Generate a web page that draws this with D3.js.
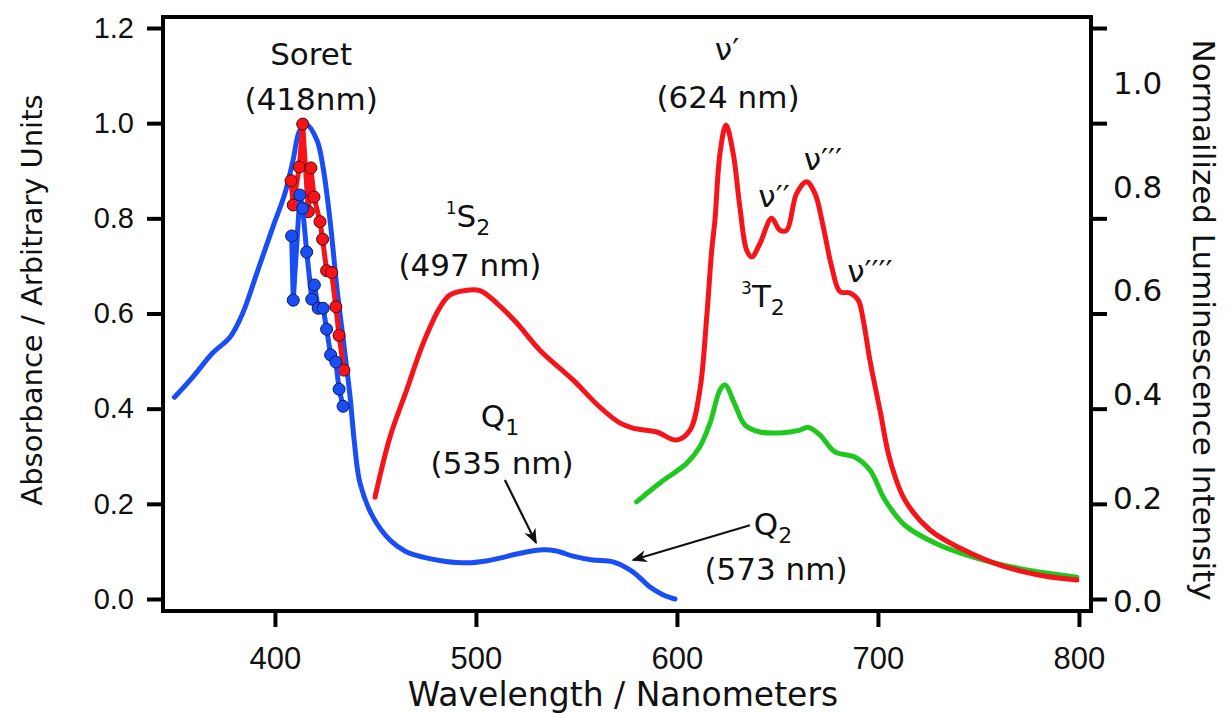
<!DOCTYPE html>
<html lang="en">
<head>
<meta charset="UTF-8">
<title>Absorbance and luminescence spectra</title>
<script src="https://d3js.org/d3.v7.min.js"></script>
<style>
    body { margin: 0; background: #fff; }
    svg { display: block; font-family: "DejaVu Sans", Verdana, sans-serif; }
    .frame { fill: none; stroke: #000; stroke-width: 4px; }
    .tick line { stroke: #000; stroke-width: 4px; }
    .tick text { fill: #111; }
    .curve { fill: none; stroke-width: 5px; stroke-linejoin: round; stroke-linecap: round; }
    .dots path { fill: none; stroke-width: 5px; stroke-linejoin: round; }
</style>
</head>
<body>
<svg width="1231" height="715"></svg>
<script>
// absorbance (blue)
const absWl  = [350, 359, 369, 377.6, 384, 391, 399, 405, 409, 412.4, 415.9, 420.9, 423.9, 427.4, 430.8, 434.8, 437.5, 439.5, 442.3, 448.8, 457.2, 465, 473.6, 485, 495.5, 505, 511.9, 522, 531.8, 540, 548.3, 558, 568.2, 576.6, 582, 586.6, 593, 599];
const absVal = [0.424, 0.466, 0.517, 0.550, 0.601, 0.685, 0.782, 0.853, 0.922, 0.985, 0.996, 0.964, 0.908, 0.796, 0.655, 0.517, 0.42, 0.33, 0.244, 0.172, 0.124, 0.100, 0.088, 0.079, 0.076, 0.080, 0.086, 0.096, 0.103, 0.101, 0.090, 0.082, 0.078, 0.061, 0.043, 0.025, 0.009, 0.000];

// luminescence (red)
const lumWl  = [449.8, 457.2, 465.5, 473.8, 482.1, 487.1, 495.4, 502, 510.3, 520.3, 531.8, 548.4, 561.7, 571.6, 578.1, 589.9, 599.9, 606.5, 611.4, 614.8, 617.3, 618.9, 621.4, 624.4, 628, 631.3, 634.7, 637.2, 641.3, 647.1, 651.2, 654.6, 659.5, 664.5, 668.7, 672.8, 677, 681.1, 686.1, 690.2, 692.7, 696, 701, 706, 713.4, 725.9, 740.8, 760.7, 780.6, 799];
const lumVal = [0.214, 0.340, 0.439, 0.538, 0.613, 0.639, 0.649, 0.648, 0.622, 0.580, 0.523, 0.460, 0.403, 0.370, 0.359, 0.351, 0.334, 0.355, 0.439, 0.592, 0.733, 0.796, 0.936, 0.996, 0.936, 0.824, 0.733, 0.719, 0.747, 0.800, 0.775, 0.775, 0.852, 0.877, 0.852, 0.782, 0.698, 0.646, 0.643, 0.628, 0.586, 0.502, 0.397, 0.292, 0.208, 0.145, 0.107, 0.071, 0.050, 0.040];

// luminescence (green)
const grnWl  = [579.9, 591.5, 604.8, 611.4, 616.4, 621.4, 623.9, 628.9, 633.8, 641.3, 651.2, 661.2, 665.2, 671.1, 678.6, 688.6, 696, 703.5, 713.4, 730.8, 750.7, 775.6, 799];
const grnVal = [0.204, 0.244, 0.285, 0.320, 0.369, 0.439, 0.450, 0.408, 0.366, 0.351, 0.349, 0.355, 0.361, 0.345, 0.309, 0.298, 0.271, 0.208, 0.155, 0.113, 0.084, 0.060, 0.046];

// Soret region points
const blueDotWl  = [408.3, 409.1, 412.4, 413.8, 415.8, 418.3, 419.6, 421.5, 424.0, 425.7, 427.7, 430.3, 431.9, 433.9];
const blueDotVal = [0.763, 0.628, 0.849, 0.821, 0.729, 0.630, 0.660, 0.611, 0.611, 0.567, 0.513, 0.498, 0.441, 0.405];
const redDotWl   = [408.0, 409.1, 412.1, 413.8, 416.6, 417.9, 419.4, 422.4, 423.7, 425.7, 428.2, 430.3, 431.9, 434.3];
const redDotVal  = [0.879, 0.828, 0.908, 0.998, 0.814, 0.906, 0.845, 0.793, 0.756, 0.690, 0.686, 0.614, 0.554, 0.481];

const xTicks = [400, 500, 600, 700, 800];
const leftTicks = [0, 0.2, 0.4, 0.6, 0.8, 1.0, 1.2];
const rightLabels = [0, 0.2, 0.4, 0.6, 0.8, 1.0];

// annotations: text (^ = superscript, _ = subscript), wavelength, value at baseline
const annText = ["Soret", "(418nm)", "^1S_2", "(497 nm)", "ν′", "(624 nm)", "ν′′", "ν′′′", "ν′′′′", "^3T_2", "Q_1", "(535 nm)", "Q_2", "(573 nm)"];
const annWl   = [418, 418, 496, 497, 624.9, 625.4, 648.3, 672.6, 696, 642.8, 512, 513, 647.8, 649.3];
const annVal  = [1.122, 1.027, 0.781, 0.679, 1.132, 1.031, 0.824, 0.901, 0.666, 0.613, 0.361, 0.263, 0.134, 0.040];
const arrows = [[514.4, 0.25, 529.9, 0.118], [636.3, 0.155, 578.1, 0.082]];

const svg = d3.select("svg");
const L = 163, R = 1091, T = 17, B = 611;

const x = d3.scaleLinear().domain([344.3, 806]).range([L, R]);
const y = d3.scaleLinear().domain([0, 1.2]).range([599, 28]);
const yLab = d3.scaleLinear().domain([0, 1]).range([601, 83]); // right-hand labels

const line = d3.line().x(d => x(d[0])).y(d => y(d[1])).curve(d3.curveCatmullRom.alpha(0.5));
const straight = d3.line().x(d => x(d[0])).y(d => y(d[1]));
const zip = (a, b) => a.map((v, i) => [v, b[i]]);

// axes
svg.append("g").attr("transform", `translate(${L},0)`)
    .call(d3.axisLeft(y).tickValues(leftTicks).tickSize(16).tickPadding(13).tickFormat(d3.format(".1f")))
    .call(g => g.select(".domain").remove())
    .selectAll("text").style("font-size", "29px");

svg.append("g").attr("transform", `translate(${R},0)`)
    .call(d3.axisRight(y).tickValues(leftTicks).tickSize(16).tickFormat(""))
    .call(g => g.select(".domain").remove());

svg.append("g").attr("transform", `translate(0,${B})`)
    .call(d3.axisBottom(x).tickValues(xTicks).tickSize(16).tickPadding(20).tickFormat(d3.format("d")))
    .call(g => g.select(".domain").remove())
    .selectAll("text").style("font-size", "31px");

svg.append("g").selectAll("text").data(rightLabels).join("text")
    .attr("x", 1113).attr("y", d => yLab(d)).attr("dy", "0.36em")
    .style("font-size", "31px").attr("fill", "#111")
    .text(d3.format(".1f"));

svg.append("path").attr("class", "frame")
    .attr("d", `M${L},${B}V${T}H${R}V${B}Z`);

// axis titles
svg.append("text").attr("transform", "translate(42,300) rotate(-90)")
    .attr("text-anchor", "middle").style("font-size", "29px").attr("fill", "#111")
    .text("Absorbance / Arbitrary Units");
svg.append("text").attr("transform", "translate(1193,320) rotate(90)")
    .attr("text-anchor", "middle").style("font-size", "31px").attr("fill", "#111")
    .text("Normailized Luminescence Intensity");
svg.append("text").attr("x", 623).attr("y", 706)
    .attr("text-anchor", "middle").style("font-size", "33px").attr("fill", "#111")
    .text("Wavelength / Nanometers");

// curves
svg.append("path").attr("class", "curve").attr("stroke", "#1ec81e").attr("d", line(zip(grnWl, grnVal)));
svg.append("path").attr("class", "curve").attr("stroke", "#f5141a").attr("d", line(zip(lumWl, lumVal)));
svg.append("path").attr("class", "curve").attr("stroke", "#1a4ef5").attr("d", line(zip(absWl, absVal)));

function dotSeries(wl, val, col, edge) {
    const g = svg.append("g").attr("class", "dots");
    g.append("path").attr("stroke", col).attr("d", straight(zip(wl, val)));
    g.selectAll("circle").data(zip(wl, val)).join("circle")
        .attr("cx", d => x(d[0])).attr("cy", d => y(d[1])).attr("r", 6)
        .attr("fill", col).attr("stroke", edge).attr("stroke-width", 1);
}
dotSeries(redDotWl, redDotVal, "#f5141a", "#5a0000");
dotSeries(blueDotWl, blueDotVal, "#1a4ef5", "#0a1a60");

// annotations
const ann = svg.append("g").attr("fill", "#111").attr("text-anchor", "middle");
annText.forEach((s, i) => {
    const t = ann.append("text").attr("x", x(annWl[i])).attr("y", y(annVal[i])).style("font-size", "31px");
    const parts = s.match(/\^.|_.|[^\^_]+/g);
    let shift = 0;
    parts.forEach(p => {
        let dy = 0, size = 31, txt = p;
        if (p[0] === "^") { txt = p[1]; size = 17; dy = -13 - shift; shift = -13; }
        else if (p[0] === "_") { txt = p[1]; size = 22; dy = 8 - shift; shift = 8; }
        else { dy = -shift; shift = 0; }
        t.append("tspan").attr("dy", dy).style("font-size", size + "px").text(txt);
    });
});

// arrows
svg.append("defs").append("marker").attr("id", "head")
    .attr("viewBox", "0 0 10 10").attr("refX", 9).attr("refY", 5)
    .attr("markerWidth", 7).attr("markerHeight", 7).attr("orient", "auto")
    .append("path").attr("d", "M0,1L10,5L0,9L3,5Z").attr("fill", "#111");
svg.append("g").selectAll("line").data(arrows).join("line")
    .attr("x1", d => x(d[0])).attr("y1", d => y(d[1]))
    .attr("x2", d => x(d[2])).attr("y2", d => y(d[3]))
    .attr("stroke", "#111").attr("stroke-width", 2.2).attr("marker-end", "url(#head)");
</script>
</body>
</html>
